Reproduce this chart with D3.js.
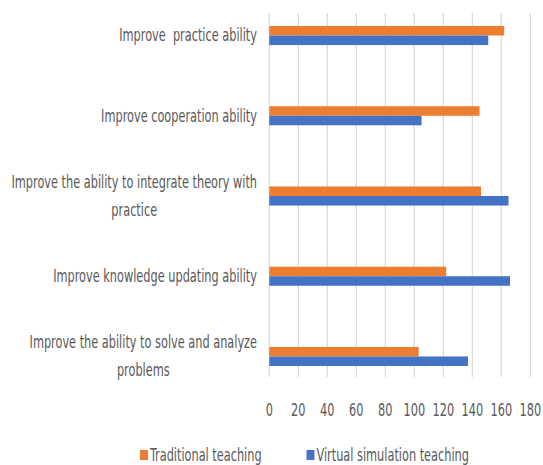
<!DOCTYPE html>
<html><head><meta charset="utf-8">
<script src="https://cdn.jsdelivr.net/npm/d3@7"></script>
<style>body{margin:0;background:#fff}</style>
</head><body>
<svg id="c" width="543" height="465"></svg>
<script>
const categories = [
  "Improve  practice ability",
  "Improve cooperation ability",
  "Improve the ability to integrate theory with\npractice",
  "Improve knowledge updating ability",
  "Improve the ability to solve and analyze\nproblems"
];
const seriesNames = ["Traditional teaching", "Virtual simulation teaching"];
const traditional = [162, 145, 146, 122, 103];
const virtualSim = [151, 105, 165, 166, 137];
const xTicks = [0, 20, 40, 60, 80, 100, 120, 140, 160, 180];
const colors = ["#ED7D31", "#4472C4"];

const svg = d3.select("#c");
const FONT = "'DejaVu Sans Condensed',sans-serif";
const SX = 0.70;
const textColor = "#595959";

const x = d3.scaleLinear().domain([0, 180]).range([269.3, 530.3]);
const y = d3.scaleBand().domain(categories).range([-4.6, 396.6]).paddingInner(0);
const ys = d3.scaleBand().domain(seriesNames).range([0, y.bandwidth()]).paddingInner(0).paddingOuter(3.21);

const gridTop = 13, gridBottom = 377;
svg.append("g").selectAll("line").data(xTicks).join("line")
  .attr("x1", d => x(d)).attr("x2", d => x(d))
  .attr("y1", gridTop).attr("y2", gridBottom)
  .attr("stroke", "#D9D9D9").attr("stroke-width", 1.2);

const data = categories.map((c, i) => ({c, vals: [traditional[i], virtualSim[i]]}));
const groups = svg.append("g").selectAll("g").data(data).join("g")
  .attr("transform", d => `translate(0,${y(d.c)})`);
groups.selectAll("rect").data(d => d.vals.map((v, j) => ({v, s: seriesNames[j], j}))).join("rect")
  .attr("x", x(0)).attr("y", d => ys(d.s))
  .attr("width", d => x(d.v) - x(0)).attr("height", ys.bandwidth())
  .attr("fill", d => colors[d.j]);

const labG = svg.append("g").selectAll("g").data(categories).join("g")
  .attr("transform", d => `translate(257,${y(d) + y.bandwidth()/2}) scale(${SX},1)`);
labG.each(function(d) {
  const g = d3.select(this);
  const lines = d.split("\n");
  const lh = 28;
  const texts = lines.map((t, i) => g.append("text")
    .attr("font-family", FONT).attr("font-size", 18).attr("fill", textColor)
    .attr("text-anchor", "middle").attr("dominant-baseline", "central")
    .attr("y", (i - (lines.length - 1) / 2) * lh)
    .style("white-space", "pre").text(t));
  const w = d3.max(texts, t => t.node().getComputedTextLength());
  texts.forEach(t => t.attr("x", -w / 2));
});

svg.append("g").selectAll("g").data(xTicks).join("g")
  .attr("transform", d => `translate(${x(d)},410) scale(${SX},1)`)
  .append("text").attr("font-family", FONT).attr("font-size", 18).attr("fill", textColor)
  .attr("text-anchor", "middle").attr("dominant-baseline", "central").text(d => d);

const legX = [140, 306.5];
const leg = svg.append("g").selectAll("g").data(seriesNames).join("g")
  .attr("transform", (d, i) => `translate(${legX[i]},455)`);
leg.append("rect").attr("x", 0).attr("y", -5).attr("width", 8).attr("height", 10)
  .attr("fill", (d, i) => colors[i]);
leg.append("g").attr("transform", `translate(10,0) scale(${SX},1)`)
  .append("text").attr("font-family", FONT).attr("font-size", 18).attr("fill", textColor)
  .attr("dominant-baseline", "central").text(d => d);
</script>
</body></html>
